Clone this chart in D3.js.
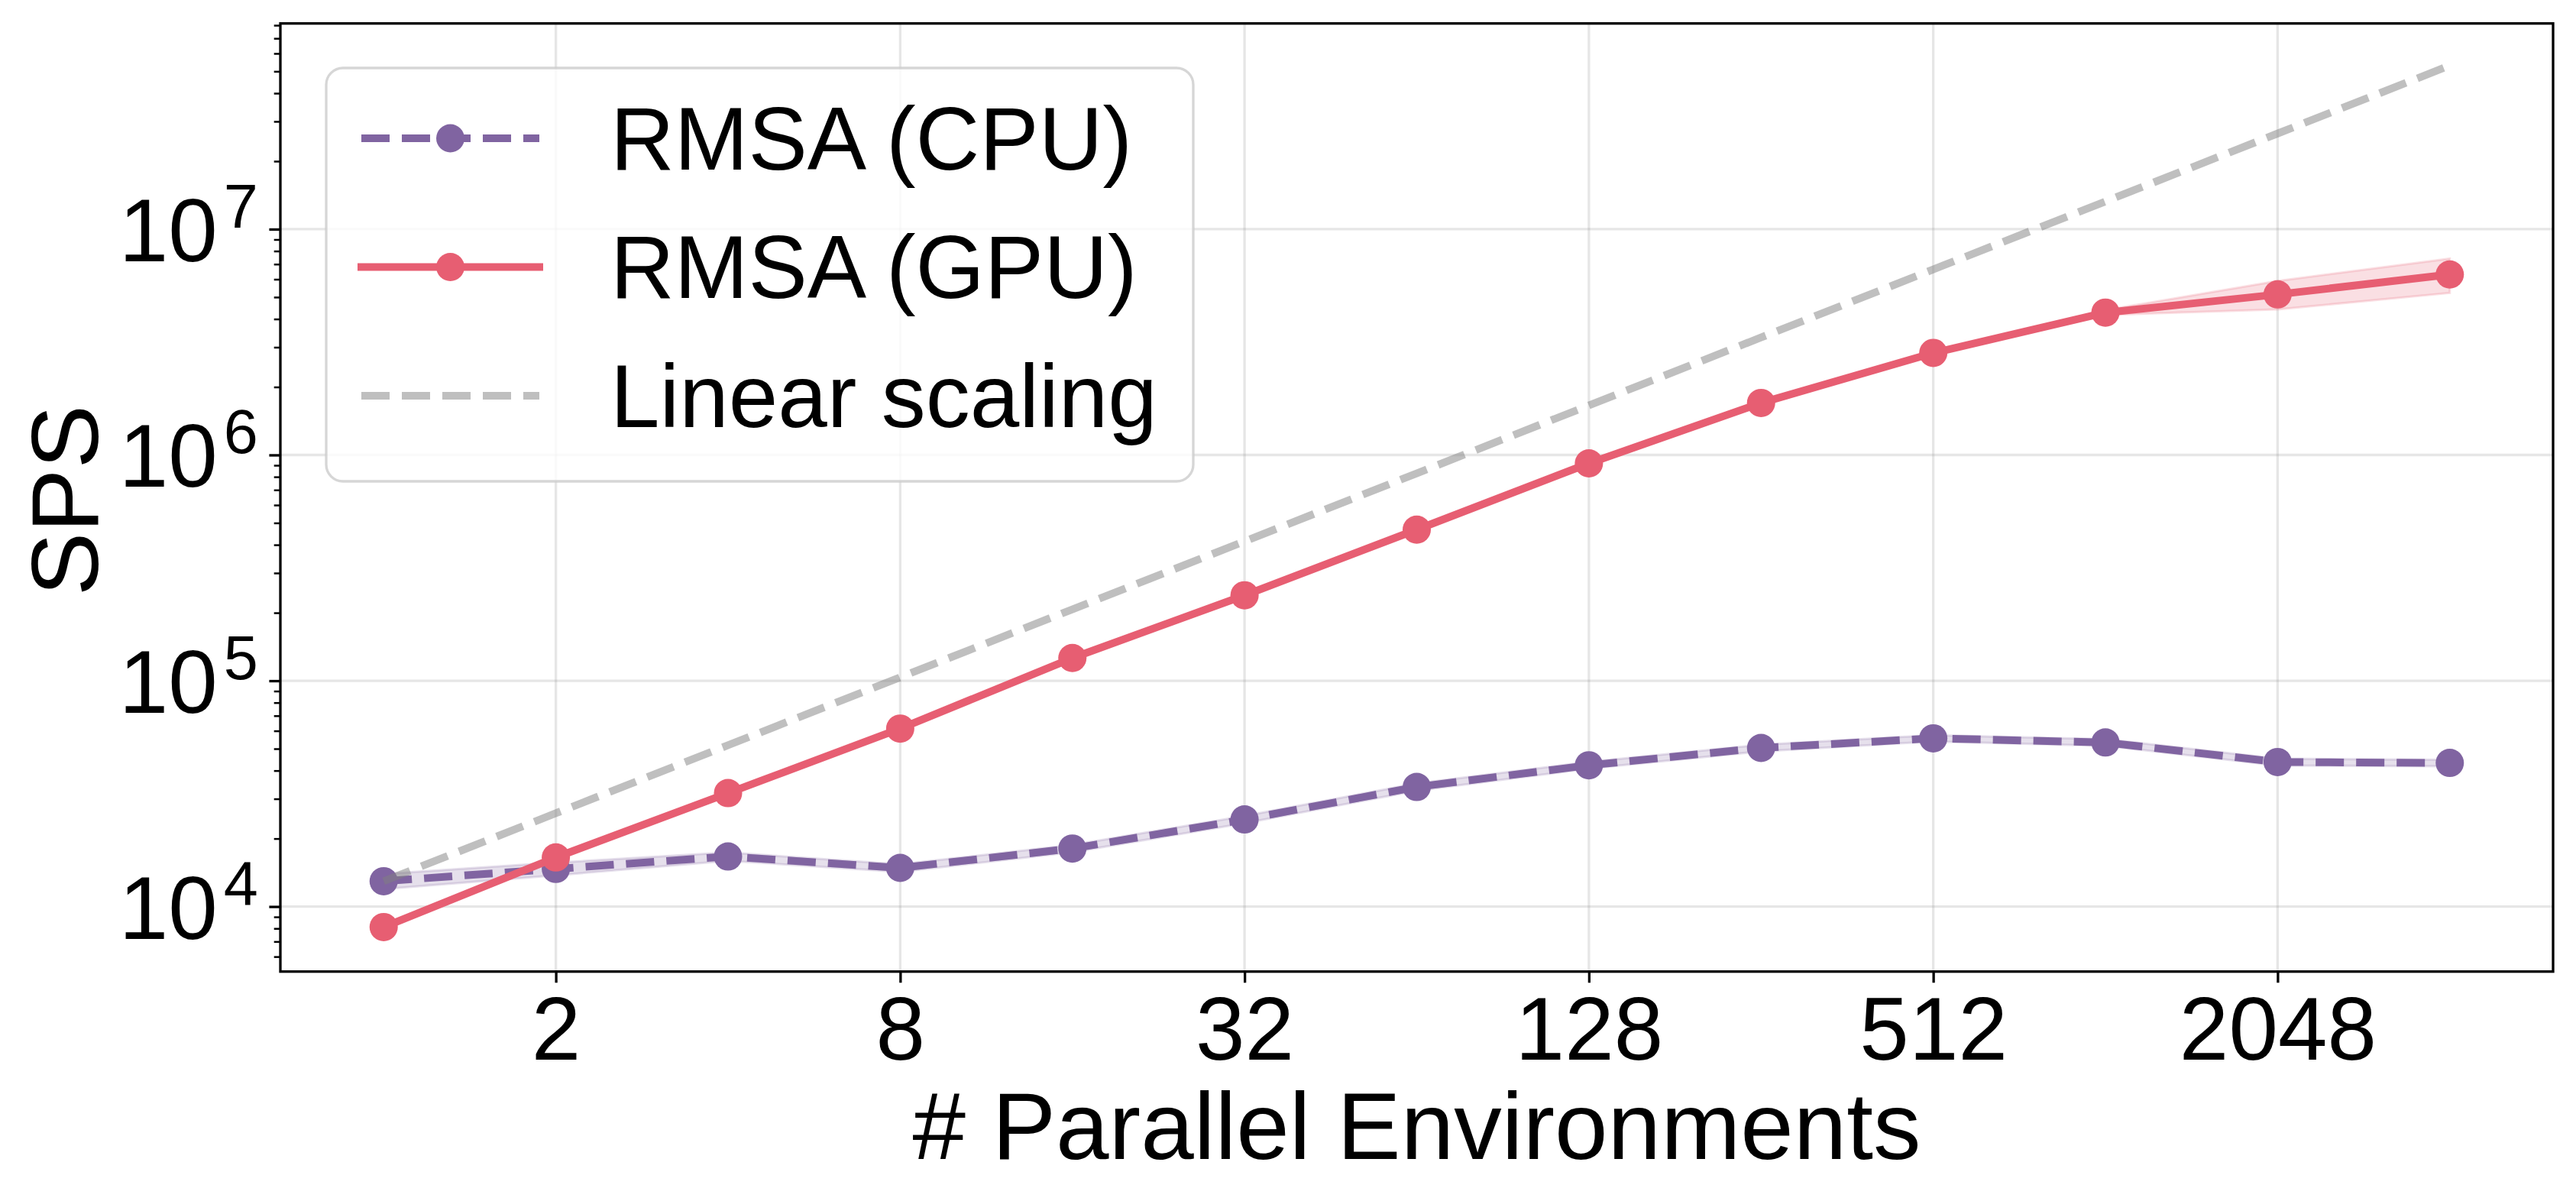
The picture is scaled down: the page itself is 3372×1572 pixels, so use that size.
<!DOCTYPE html>
<html>
<head>
<meta charset="utf-8">
<script src="https://cdn.jsdelivr.net/npm/d3@7"></script>
<style>
  body { margin: 0; background: #fff; }
  text { font-family: 'Liberation Sans', Arial, Helvetica, sans-serif; }
</style>
</head>
<body>
<div id="chart"></div>
<script>
// values
const envs = [1, 2, 4, 8, 16, 32, 64, 128, 256, 512, 1024, 2048, 4096];
const cpuSps = [12950, 14680, 16660, 14830, 18070, 24300, 33850, 42240, 50380, 55600, 53300, 43650, 43250];
const cpuLow = [11950, 13750, 15950, 14250, 17400, 23400, 32600, 40800, 48700, 53800, 51500, 42100, 41800];
const cpuHigh = [13950, 15650, 17350, 15400, 18750, 25200, 35100, 43700, 52100, 57400, 55100, 45200, 44700];
const gpuSps = [8115, 16500, 31800, 61400, 126100, 239000, 467000, 918000, 1700000, 2830000, 4270000, 5140000, 6300000];
const gpuLow = [7950, 16200, 31200, 60200, 123600, 234500, 458000, 900000, 1670000, 2780000, 4170000, 4410000, 5220000];
const gpuHigh = [8280, 16800, 32400, 62600, 128600, 243500, 476000, 936000, 1730000, 2880000, 4380000, 5900000, 7410000];
const linearSps = [12950, 25900, 51800, 103600, 207200, 414400, 828800, 1657600, 3315200, 6630400, 13260800, 26521600, 53043200];

const xTicks = [2, 8, 32, 128, 512, 2048];
const yTicks = [1e4, 1e5, 1e6, 1e7];
const seriesNames = ['RMSA (CPU)', 'RMSA (GPU)', 'Linear scaling'];
const xTitle = '# Parallel Environments';
const yTitle = 'SPS';

const W = 3372;
const H = 1572;
const box = { left: 367, right: 3342, top: 30.7, bottom: 1271.7 };

const purple = '#8064a1';
const red = '#e75e72';
const grey = '#808080';
const font = "'Liberation Sans', Arial, Helvetica, sans-serif";

const svg = d3
  .select('#chart')
  .append('svg')
  .attr('width', W)
  .attr('height', H)
  .style('display', 'block');

svg.append('rect').attr('width', W).attr('height', H).attr('fill', '#fff');

const xScale = d3
  .scaleLog()
  .base(2)
  .domain([2 ** -0.6, 2 ** 12.6])
  .range([box.left, box.right]);
const yScale = d3
  .scaleLog()
  .domain([10 ** 3.712, 10 ** 7.911])
  .range([box.bottom, box.top]);

// grid
const grid = svg.append('g');
grid
  .selectAll('line.gx')
  .data(xTicks)
  .join('line')
  .attr('x1', (d) => xScale(d))
  .attr('x2', (d) => xScale(d))
  .attr('y1', box.top)
  .attr('y2', box.bottom)
  .attr('stroke', grey)
  .attr('stroke-opacity', 0.2)
  .attr('stroke-width', 3.3);
grid
  .selectAll('line.gy')
  .data(yTicks)
  .join('line')
  .attr('x1', box.left)
  .attr('x2', box.right)
  .attr('y1', (d) => yScale(d))
  .attr('y2', (d) => yScale(d))
  .attr('stroke', grey)
  .attr('stroke-opacity', 0.2)
  .attr('stroke-width', 3.3);

// shaded bands
const band = (lo, hi) =>
  d3
    .area()
    .x((d, i) => xScale(envs[i]))
    .y0((d, i) => yScale(lo[i]))
    .y1((d, i) => yScale(hi[i]));

svg
  .append('path')
  .datum(envs)
  .attr('d', band(cpuLow, cpuHigh))
  .attr('fill', purple)
  .attr('fill-opacity', 0.2)
  .attr('stroke', purple)
  .attr('stroke-opacity', 0.2)
  .attr('stroke-width', 3);

svg
  .append('path')
  .datum(envs)
  .attr('d', band(gpuLow, gpuHigh))
  .attr('fill', red)
  .attr('fill-opacity', 0.2)
  .attr('stroke', red)
  .attr('stroke-opacity', 0.2)
  .attr('stroke-width', 3);

const line = (vals) =>
  d3
    .line()
    .x((d, i) => xScale(envs[i]))
    .y((d, i) => yScale(vals[i]));

// cpu
svg
  .append('path')
  .datum(envs)
  .attr('d', line(cpuSps))
  .attr('fill', 'none')
  .attr('stroke', purple)
  .attr('stroke-width', 10)
  .attr('stroke-dasharray', '37 16');
svg
  .append('g')
  .selectAll('circle')
  .data(cpuSps)
  .join('circle')
  .attr('cx', (d, i) => xScale(envs[i]))
  .attr('cy', (d) => yScale(d))
  .attr('r', 18.5)
  .attr('fill', purple);

// gpu
svg
  .append('path')
  .datum(envs)
  .attr('d', line(gpuSps))
  .attr('fill', 'none')
  .attr('stroke', red)
  .attr('stroke-width', 10)
  .attr('stroke-linejoin', 'round');
svg
  .append('g')
  .selectAll('circle')
  .data(gpuSps)
  .join('circle')
  .attr('cx', (d, i) => xScale(envs[i]))
  .attr('cy', (d) => yScale(d))
  .attr('r', 18.5)
  .attr('fill', red);

// linear scaling reference
svg
  .append('path')
  .datum(envs)
  .attr('d', line(linearSps))
  .attr('fill', 'none')
  .attr('stroke', grey)
  .attr('stroke-opacity', 0.5)
  .attr('stroke-width', 10)
  .attr('stroke-dasharray', '37 16');

// axes
const xAxis = d3.axisBottom(xScale).tickValues(xTicks).tickSize(14.6).tickSizeOuter(0);
const gx = svg
  .append('g')
  .attr('transform', `translate(0, ${box.bottom})`)
  .call(xAxis);
gx.select('.domain').remove();
gx.selectAll('.tick line').attr('stroke', '#000').attr('stroke-width', 3.3);
gx.selectAll('.tick text')
  .attr('y', 115.3)
  .attr('dy', null)
  .attr('fill', '#000')
  .style('font-family', font)
  .style('font-size', '116px')
  .text((d) => d);

const minorTicks = yScale.ticks().filter((v) => !yTicks.includes(v));
const gyMinor = svg
  .append('g')
  .attr('transform', `translate(${box.left}, 0)`)
  .call(d3.axisLeft(yScale).tickValues(minorTicks).tickSize(8.3).tickSizeOuter(0).tickFormat(''));
gyMinor.select('.domain').remove();
gyMinor.selectAll('.tick line').attr('stroke', '#000').attr('stroke-width', 2.5);

const gy = svg
  .append('g')
  .attr('transform', `translate(${box.left}, 0)`)
  .call(d3.axisLeft(yScale).tickValues(yTicks).tickSize(14.6).tickSizeOuter(0));
gy.select('.domain').remove();
gy.selectAll('.tick line').attr('stroke', '#000').attr('stroke-width', 3.3);
gy.selectAll('.tick text').remove();
const yLab = gy
  .selectAll('.tick')
  .append('text')
  .attr('x', -29.2)
  .attr('y', 41.5)
  .attr('text-anchor', 'end')
  .attr('fill', '#000')
  .style('font-family', font)
  .style('font-size', '116px');
yLab.append('tspan').text('10');
yLab
  .append('tspan')
  .attr('dx', 8)
  .attr('dy', -44)
  .style('font-size', '81px')
  .text((d) => Math.round(Math.log10(d)));

// frame
svg
  .append('rect')
  .attr('x', box.left)
  .attr('y', box.top)
  .attr('width', box.right - box.left)
  .attr('height', box.bottom - box.top)
  .attr('fill', 'none')
  .attr('stroke', '#000')
  .attr('stroke-width', 3.3);

// titles
svg
  .append('text')
  .attr('x', (box.left + box.right) / 2)
  .attr('y', 1517)
  .attr('text-anchor', 'middle')
  .style('font-size', '125px')
  .text(xTitle);

svg
  .append('text')
  .attr('transform', `translate(128, ${(box.top + box.bottom) / 2 + 4}) rotate(-90)`)
  .attr('text-anchor', 'middle')
  .style('font-size', '125px')
  .text(yTitle);

// legend
const legend = svg.append('g');
legend
  .append('rect')
  .attr('x', 427)
  .attr('y', 89)
  .attr('width', 1135)
  .attr('height', 541)
  .attr('rx', 22)
  .attr('fill', '#fff')
  .attr('fill-opacity', 0.8)
  .attr('stroke', '#cccccc')
  .attr('stroke-opacity', 0.8)
  .attr('stroke-width', 3.3);

const legendStyles = [
  { color: purple, opacity: 1, dash: '37 16', cap: 'butt', marker: true },
  { color: red, opacity: 1, dash: null, cap: 'square', marker: true },
  { color: grey, opacity: 0.5, dash: '37 16', cap: 'butt', marker: false },
];

seriesNames.forEach((name, i) => {
  const st = legendStyles[i];
  const baseY = 221.5 + i * 168.5;
  const midY = baseY - 40.5;
  const row = legend.append('g');
  row
    .append('line')
    .attr('x1', 473)
    .attr('x2', 706)
    .attr('y1', midY)
    .attr('y2', midY)
    .attr('stroke', st.color)
    .attr('stroke-opacity', st.opacity)
    .attr('stroke-width', 10)
    .attr('stroke-linecap', st.cap)
    .attr('stroke-dasharray', st.dash);
  if (st.marker) {
    row
      .append('circle')
      .attr('cx', 589.5)
      .attr('cy', midY)
      .attr('r', 18.5)
      .attr('fill', st.color);
  }
  row
    .append('text')
    .attr('x', 799)
    .attr('y', baseY)
    .style('font-size', '116px')
    .text(name);
});
</script>
</body>
</html>
